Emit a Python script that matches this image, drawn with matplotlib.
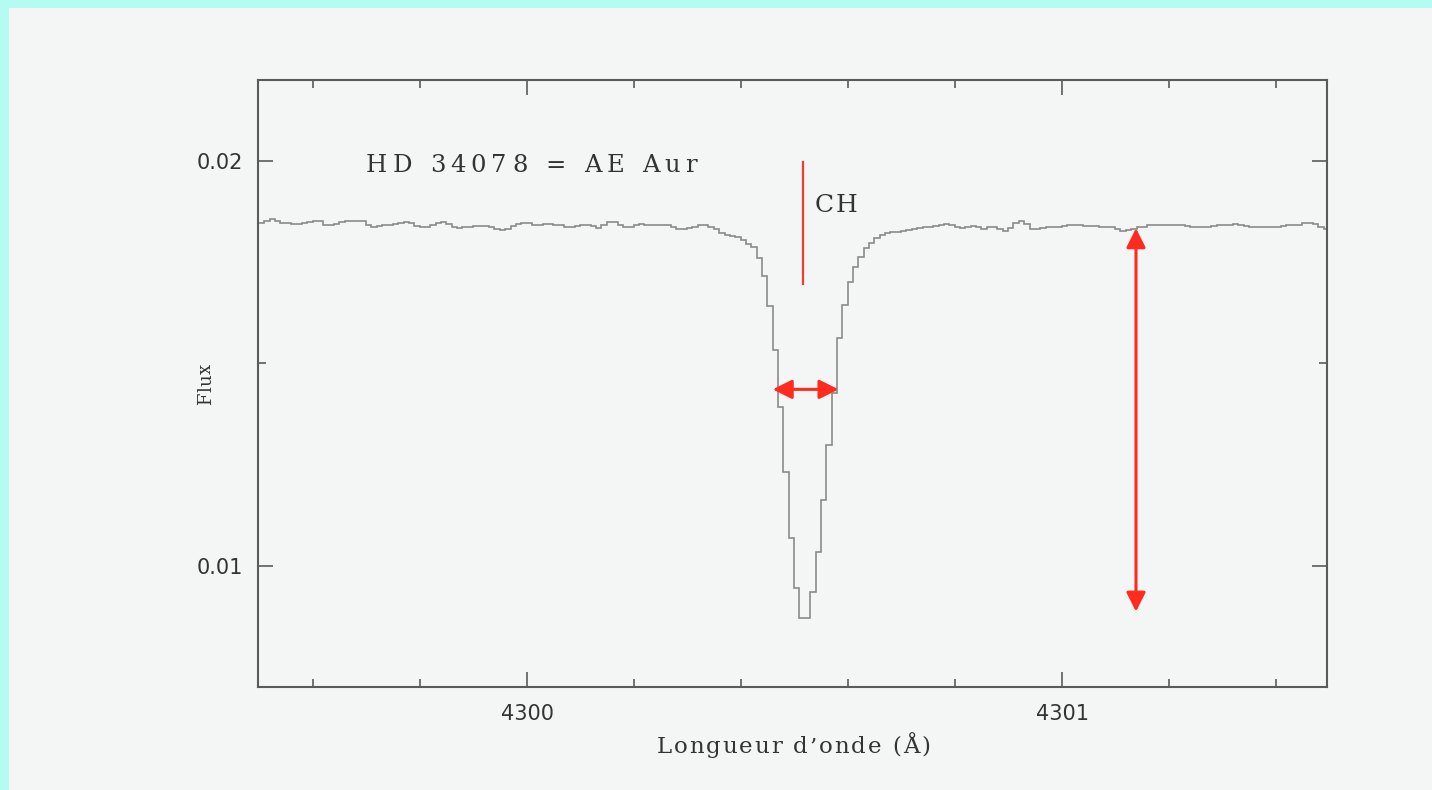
import numpy as np
import matplotlib
matplotlib.use('Agg')
import matplotlib.pyplot as plt
from matplotlib.patches import Rectangle
from matplotlib.ticker import MultipleLocator, FormatStrFormatter
from matplotlib.font_manager import FontProperties, findfont
from matplotlib.ft2font import FT2Font

# HD 34078 spectrum around the CH line, 0.01 A bins
wave_start = 4299.499
wave_step = 0.01
flux = np.array([
    0.01847, 0.01853, 0.01856, 0.01853, 0.01848, 0.01846, 0.01844, 0.01844, 0.01847, 0.01849,
    0.01851, 0.01851, 0.01842, 0.01841, 0.01844, 0.01849, 0.01851, 0.01852, 0.01853, 0.01851,
    0.01843, 0.01838, 0.01839, 0.01841, 0.01842, 0.01844, 0.01847, 0.01850, 0.01847, 0.01840,
    0.01836, 0.01836, 0.01842, 0.01846, 0.01849, 0.01844, 0.01838, 0.01835, 0.01836, 0.01838,
    0.01839, 0.01840, 0.01840, 0.01838, 0.01833, 0.01830, 0.01833, 0.01839, 0.01844, 0.01846,
    0.01846, 0.01843, 0.01842, 0.01844, 0.01844, 0.01843, 0.01841, 0.01838, 0.01838, 0.01839,
    0.01842, 0.01841, 0.01840, 0.01835, 0.01842, 0.01849, 0.01849, 0.01842, 0.01838, 0.01837,
    0.01841, 0.01844, 0.01843, 0.01841, 0.01841, 0.01842, 0.01842, 0.01837, 0.01832, 0.01831,
    0.01834, 0.01838, 0.01842, 0.01842, 0.01838, 0.01831, 0.01822, 0.01816, 0.01814, 0.01812,
    0.01805, 0.01796, 0.01788, 0.01761, 0.01715, 0.01642, 0.01533, 0.01393, 0.01233, 0.01068,
    0.00945, 0.00871, 0.00871, 0.00936, 0.01035, 0.01163, 0.01299, 0.01427, 0.01563, 0.01644,
    0.01702, 0.01739, 0.01764, 0.01784, 0.01798, 0.01809, 0.01816, 0.01821, 0.01825, 0.01825,
    0.01827, 0.01830, 0.01832, 0.01835, 0.01837, 0.01838, 0.01839, 0.01842, 0.01844, 0.01842,
    0.01838, 0.01835, 0.01838, 0.01839, 0.01836, 0.01832, 0.01836, 0.01837, 0.01832, 0.01828,
    0.01834, 0.01846, 0.01852, 0.01844, 0.01832, 0.01833, 0.01835, 0.01836, 0.01837, 0.01838,
    0.01839, 0.01841, 0.01842, 0.01841, 0.01839, 0.01839, 0.01839, 0.01838, 0.01838, 0.01837,
    0.01833, 0.01828, 0.01830, 0.01833, 0.01836, 0.01838, 0.01841, 0.01843, 0.01843, 0.01842,
    0.01841, 0.01841, 0.01841, 0.01839, 0.01838, 0.01837, 0.01836, 0.01838, 0.01839, 0.01841,
    0.01842, 0.01843, 0.01844, 0.01842, 0.01839, 0.01836, 0.01837, 0.01837, 0.01836, 0.01836,
    0.01838, 0.01839, 0.01841, 0.01842, 0.01843, 0.01846, 0.01846, 0.01844, 0.01838, 0.01831,
])
edges = wave_start + wave_step * np.arange(flux.size + 1)

# CH marker and the width / depth arrows
ch_wave = 4300.515
ch_flux = [0.01697, 0.01997]
width_wave = [4300.459, 4300.582]
width_flux = 0.01436
depth_wave = 4301.138
depth_flux = [0.01834, 0.00887]

title = 'HD 34078 = AE Aur'
xlabel = 'Longueur d’onde (Å)'
ylabel = 'Flux'

W, H = 1432, 790
DPI = 100
bg = '#f4f6f6'
frame = '#5a5a5a'
red = '#ff2b1e'
ink = '#333333'
serif = 'DejaVu Serif'

fig = plt.figure(figsize=(W / DPI, H / DPI), dpi=DPI, facecolor=bg)
fig.add_artist(Rectangle((0, 1 - 8 / H), 1, 8 / H, transform=fig.transFigure,
                         color='#b4fcf1', lw=0, zorder=10))
fig.add_artist(Rectangle((0, 0), 9 / W, 1, transform=fig.transFigure,
                         color='#b4fcf1', lw=0, zorder=10))


def advances(s, size, family):
    font = FT2Font(findfont(FontProperties(family=family)))
    font.set_size(size, DPI)
    return [font.load_char(ord(c)).linearHoriAdvance / 65536 for c in s]


def tracked(start, end, base, s, size, vertical=False, family=serif, **kw):
    # draw s glyph by glyph, spread from start to end (pixels, origin top-left);
    # vertical text runs upwards, so start is the lower end
    adv = advances(s, size, family)
    track = (abs(end - start) - sum(adv)) / (len(s) - 1)
    pos = start
    for c, a in zip(s, adv):
        if c != ' ':
            if vertical:
                fig.text(base / W, 1 - pos / H, c, rotation=90, rotation_mode='anchor',
                         ha='left', va='baseline', family=family, fontsize=size, **kw)
            else:
                fig.text(pos / W, 1 - base / H, c, ha='left', va='baseline',
                         family=family, fontsize=size, **kw)
        pos += -(a + track) if vertical else (a + track)


ax = fig.add_axes([258 / W, 1 - 687 / H, 1069 / W, 607 / H])
ax.set_facecolor(bg)

ax.stairs(flux, edges, baseline=None, color='#8a8a8a', lw=1.2)

ax.set_xlim(4299.497, 4301.495)
ax.set_ylim(0.00701, 0.0220)

ax.xaxis.set_major_locator(MultipleLocator(1))
ax.xaxis.set_minor_locator(MultipleLocator(0.2))
ax.yaxis.set_major_locator(MultipleLocator(0.01))
ax.yaxis.set_minor_locator(MultipleLocator(0.005))
ax.xaxis.set_major_formatter(FormatStrFormatter('%d'))
ax.yaxis.set_major_formatter(FormatStrFormatter('%.2f'))
ax.tick_params(which='both', direction='in', top=True, right=True,
               color=frame, width=1.2, labelsize=15, labelcolor=ink)
ax.tick_params(which='major', length=10.5)
ax.tick_params(which='minor', length=6)
ax.tick_params(axis='y', pad=10.5)
ax.tick_params(axis='x', pad=12)
for s in ax.spines.values():
    s.set_color(frame)
    s.set_linewidth(1.5)

ax.plot([ch_wave, ch_wave], ch_flux, color='#f23c2c', lw=1.6)

arrow = dict(arrowstyle='<|-|>,head_length=0.4,head_width=0.2',
             color=red, lw=2.2, mutation_scale=29, shrinkA=0, shrinkB=0)
ax.annotate('', xy=(width_wave[0], width_flux), xytext=(width_wave[1], width_flux),
            arrowprops=arrow)
ax.annotate('', xy=(depth_wave, depth_flux[0]), xytext=(depth_wave, depth_flux[1]),
            arrowprops=arrow)

tracked(366, 697, 172, title, 17.5, color=ink)
tracked(815, 857, 211.7, 'CH', 18, color=ink)
tracked(656.7, 930.3, 753, xlabel, 16.5, color=ink)
tracked(405, 364, 211, ylabel, 13, vertical=True, color=ink)

fig.savefig('out.png', dpi=DPI, facecolor=bg)
